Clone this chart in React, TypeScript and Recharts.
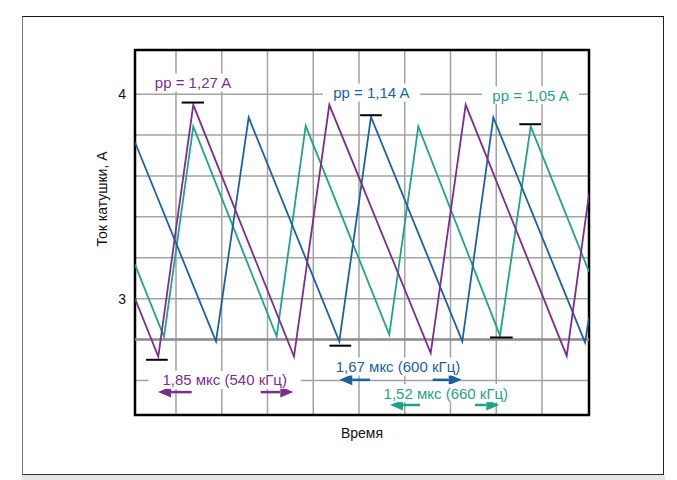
import {
  LineChart,
  Line,
  XAxis,
  YAxis,
  CartesianGrid,
  ReferenceLine,
  ReferenceDot,
  ReferenceArea,
  Label,
} from 'recharts';

// time in grid divisions, current in A
const purpleT = [-0.896, -0.387, 0.378, 2.579, 3.351, 5.567, 6.332, 8.54, 9.027];
const purpleI = [3.0, 2.717, 3.948, 2.717, 3.948, 2.734, 3.948, 2.72, 3.51];

const blueT = [-0.896, 0.874, 1.589, 3.569, 4.262, 6.258, 6.936, 8.94, 9.027];
const blueI = [3.765, 2.791, 3.886, 2.791, 3.889, 2.791, 3.886, 2.786, 2.907];

const tealT = [-0.896, -0.262, 0.378, 2.201, 2.835, 4.662, 5.296, 7.082, 7.753, 9.027];
const tealI = [3.167, 2.813, 3.842, 2.815, 3.845, 2.824, 3.842, 2.819, 3.842, 3.132];

const xTicks = [0, 1, 2, 3, 4, 5, 6, 7, 8];
const yTicks = [2.6, 2.8, 3.0, 3.2, 3.4, 3.6, 3.8, 4.0];
const yLabels = [3, 4];

// peak/trough level markers: [level, from, to]
const levelMarks = [
  [2.701, -0.656, -0.181],
  [3.959, 0.124, 0.612],
  [2.77, 3.353, 3.83],
  [3.897, 4.024, 4.499],
  [2.81, 6.863, 7.359],
  [3.853, 7.503, 7.978],
];

const PURPLE = '#7d2d8e';
const BLUE = '#1c62a2';
const TEAL = '#1ea488';

// labels: text, t, current, colour
const notes = [
  { text: 'pp = 1,27 A', t: 0.372, i: 4.057, color: PURPLE },
  { text: 'pp = 1,14 A', t: 4.27, i: 4.008, color: BLUE },
  { text: 'pp = 1,05 A', t: 7.749, i: 3.995, color: TEAL },
  { text: '1,85 мкс (540 кГц)', t: 1.064, i: 2.603, color: PURPLE },
  { text: '1,67 мкс (600 кГц)', t: 4.852, i: 2.668, color: BLUE },
  { text: '1,52 мкс (660 кГц)', t: 5.898, i: 2.538, color: TEAL },
];

// period arrows: tip, tail, level
const arrows = [
  { tip: -0.393, tail: 0.343, i: 2.543, color: PURPLE },
  { tip: 2.564, tail: 1.851, i: 2.543, color: PURPLE },
  { tip: 3.569, tail: 4.24, i: 2.603, color: BLUE },
  { tip: 6.245, tail: 5.611, i: 2.603, color: BLUE },
  { tip: 4.678, tail: 5.333, i: 2.48, color: TEAL },
  { tip: 7.067, tail: 6.536, i: 2.48, color: TEAL },
];

const FONT = '"Liberation Sans", Arial, sans-serif';

const toPoints = (t: number[], v: number[]) => t.map((x, k) => ({ x, y: v[k] }));

function NoteBox(props: any) {
  const { cx, cy, text, color } = props;
  const w = text.length * 7.9 + 10;
  return (
    <g>
      <rect x={cx - w / 2} y={cy - 9} width={w} height={18} fill="#fff" />
      <text
        x={cx}
        y={cy}
        textAnchor="middle"
        dominantBaseline="central"
        fill={color}
        fontSize={15}
        fontFamily={FONT}
      >
        {text}
      </text>
    </g>
  );
}

function Arrow(props: any) {
  const { x1, y1, x2, color } = props;
  const dir = x2 > x1 ? 1 : -1;
  const head = 13;
  return (
    <g>
      <line x1={x1 + dir * head} y1={y1} x2={x2} y2={y1} stroke={color} strokeWidth={2.5} />
      <polygon
        points={`${x1},${y1} ${x1 + dir * head},${y1 - 5.5} ${x1 + dir * head},${y1 + 5.5}`}
        fill={color}
      />
    </g>
  );
}

export default function App() {
  const xMin = -0.896;
  const xMax = 9.027;
  const yMin = 2.431;
  const yMax = 4.216;

  return (
    <div style={{ position: 'absolute', left: 0, top: 0, width: 677, height: 480, background: '#fff' }}>
      <div
        style={{
          position: 'absolute',
          left: 22,
          top: 16,
          width: 640,
          height: 457,
          borderTop: '1.5px solid #111',
          borderLeft: '1.5px solid #777',
          borderRight: '1.5px solid #222',
          borderBottom: '1.5px solid #333',
        }}
      />
      <div style={{ position: 'absolute', left: 22, top: 475, width: 643, height: 5, background: '#e6e6e6' }} />
      <div style={{ position: 'absolute', left: 0, top: 0 }}>
        <LineChart width={677} height={480} margin={{ top: 50, right: 88, bottom: 29, left: 0 }}>
          <CartesianGrid stroke="#a3a3a3" strokeWidth={1.5} />
          <XAxis
            type="number"
            dataKey="x"
            domain={[xMin, xMax]}
            ticks={xTicks}
            allowDataOverflow
            tickFormatter={() => ''}
            axisLine={false}
            tickLine={false}
            height={36}
          >
            <Label value="Время" position="center" fontSize={14} fill="#111" fontFamily={FONT} />
          </XAxis>
          <YAxis
            type="number"
            domain={[yMin, yMax]}
            ticks={yTicks}
            allowDataOverflow
            width={135}
            axisLine={false}
            tickLine={false}
            tickSize={0}
            tickMargin={9}
            tick={{ fontSize: 14, fill: '#111', fontFamily: FONT }}
            tickFormatter={(v: number) => (yLabels.includes(Math.round(v * 10) / 10) ? String(v) : '')}
          >
            <Label
              content={() => (
                <text
                  x={102}
                  y={199}
                  transform="rotate(-90, 102, 199)"
                  textAnchor="middle"
                  dominantBaseline="central"
                  fontSize={14}
                  fill="#111"
                  fontFamily={FONT}
                >
                  Ток катушки, А
                </text>
              )}
            />
          </YAxis>
          <ReferenceLine y={2.8} stroke="#8f8f8f" strokeWidth={2.5} />
          <Line
            data={toPoints(tealT, tealI)}
            dataKey="y"
            stroke={TEAL}
            strokeWidth={1.8}
            dot={false}
            isAnimationActive={false}
          />
          <Line
            data={toPoints(blueT, blueI)}
            dataKey="y"
            stroke={BLUE}
            strokeWidth={1.8}
            dot={false}
            isAnimationActive={false}
          />
          <Line
            data={toPoints(purpleT, purpleI)}
            dataKey="y"
            stroke={PURPLE}
            strokeWidth={1.8}
            dot={false}
            isAnimationActive={false}
          />
          {levelMarks.map(([lv, a, b], k) => (
            <ReferenceLine
              key={`lv-${k}`}
              segment={[
                { x: a, y: lv },
                { x: b, y: lv },
              ]}
              stroke="#000"
              strokeWidth={2}
            />
          ))}
          {notes.map((n, k) => (
            <ReferenceDot
              key={`n-${k}`}
              x={n.t}
              y={n.i}
              r={0}
              shape={(p: any) => <NoteBox cx={p.cx} cy={p.cy} text={n.text} color={n.color} />}
            />
          ))}
          {arrows.map((a, k) => (
            <ReferenceLine
              key={`a-${k}`}
              segment={[
                { x: a.tip, y: a.i },
                { x: a.tail, y: a.i },
              ]}
              shape={(p: any) => <Arrow x1={p.x1} y1={p.y1} x2={p.x2} color={a.color} />}
            />
          ))}
          <ReferenceArea x1={xMin} x2={xMax} y1={yMin} y2={yMax} fill="none" stroke="#000" strokeWidth={2.5} />
        </LineChart>
      </div>
    </div>
  );
}
